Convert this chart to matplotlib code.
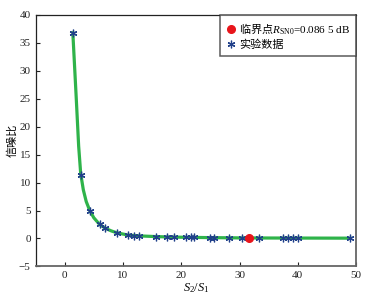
import matplotlib
matplotlib.use("Agg")
import matplotlib.pyplot as plt

exp_x = [1.4, 2.75, 4.3, 6.0, 7.0, 9.0, 10.9, 11.9, 12.8, 15.7, 17.6, 18.8,
         20.9, 21.6, 22.2, 24.9, 25.6, 28.2, 30.4, 33.4, 37.5, 38.4, 39.1, 40.1, 49.0]
exp_y = [36.8, 11.4, 5.0, 2.5, 1.8, 1.0, 0.6, 0.5, 0.5, 0.35, 0.3, 0.25,
         0.2, 0.2, 0.2, 0.15, 0.15, 0.12, 0.1, 0.08, 0.07, 0.07, 0.06, 0.06, 0.05]

# fitted curve (green)
fit_x = [1.4, 2.0, 2.4, 2.75, 3.2, 3.7, 4.3, 5.0, 6.0, 7.0, 8.0, 9.0, 10.9,
         13.0, 16.0, 20.0, 25.0, 30.0, 35.0, 40.0, 45.0, 49.0]
fit_y = [36.8, 24.8, 16.5, 11.6, 8.7, 6.6, 5.0, 3.7, 2.5, 1.8, 1.35, 1.0, 0.6,
         0.45, 0.32, 0.22, 0.15, 0.1, 0.08, 0.07, 0.06, 0.05]

# critical point
crit_x = [31.7]
crit_y = [0.0865]

xticks = [0, 10, 20, 30, 40, 50]
yticks = [-5, 0, 5, 10, 15, 20, 25, 30, 35, 40]

plt.rcParams['font.family'] = ['Liberation Serif', 'Noto Sans CJK SC']
# custom mathtext: CJK via \mathrm, serif latin via \mathsf / \mathit
plt.rcParams['mathtext.fontset'] = 'custom'
plt.rcParams['mathtext.rm'] = 'Noto Sans CJK SC'
plt.rcParams['mathtext.sf'] = 'Liberation Serif'
plt.rcParams['mathtext.it'] = 'Liberation Serif:italic'

fig = plt.figure(figsize=(3.78, 2.97), dpi=100)
ax = fig.add_axes([0.094, 0.103, 0.848, 0.847])

ax.plot(fit_x, fit_y, color='#2fb34a', linewidth=2.3, zorder=2)
ax.plot(exp_x, exp_y, linestyle='none', marker=(6, 2, 0), color='#20408a',
        markersize=5.5, markeredgewidth=0.9, label='实验数据', zorder=3)
ax.plot(crit_x, crit_y, linestyle='none', marker='o', color='#e8151b',
        markersize=5.5,
        label='$\\mathrm{临界点}R_{\\mathsf{SN0}}$=0.086 5 dB', zorder=4)

ax.set_xlim(-5, 50)
ax.set_ylim(-5, 40)
ax.set_xticks(xticks)
ax.set_yticks(yticks)
ax.tick_params(direction='in', length=3, labelsize=8, colors='#222222',
               top=False, right=False)

for s in ['left', 'top']:
    ax.spines[s].set_color('#222222')
    ax.spines[s].set_linewidth(0.9)
for s in ['right', 'bottom']:
    ax.spines[s].set_color('#666666')
    ax.spines[s].set_linewidth(1.3)

ax.set_xlabel('$S_{\\mathsf{2}}\\mathsf{/}S_{\\mathsf{1}}$', fontsize=9, labelpad=1)
ax.set_ylabel('信噪比', fontsize=8, labelpad=1)

handles, labels = ax.get_legend_handles_labels()
leg = ax.legend(handles[::-1], labels[::-1], loc='upper right',
                borderaxespad=0, fontsize=8, frameon=True, fancybox=False,
                handletextpad=0.25, handlelength=0.9, borderpad=0.55,
                labelspacing=0.35)
leg.get_frame().set_edgecolor('#333333')
leg.get_frame().set_linewidth(1.1)

fig.savefig('out.png', dpi=100)
